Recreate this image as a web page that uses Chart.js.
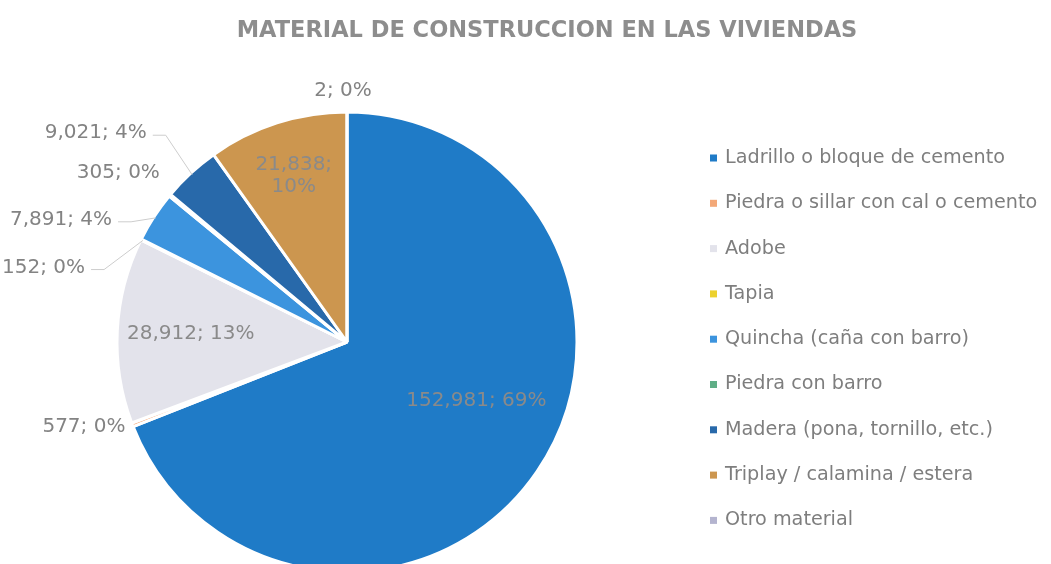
<!DOCTYPE html>
<html>
<head>
<meta charset="utf-8">
<title>Material de construcción en las viviendas</title>
<script src="https://cdn.jsdelivr.net/npm/chart.js@4.4.1/dist/chart.umd.min.js"></script>
<style>
  html, body { margin: 0; padding: 0; background: #fff; overflow: hidden; }
  #wrap { width: 1051px; height: 564px; }
</style>
</head>
<body>
<div id="wrap"><canvas id="chart-pie" width="1051" height="564"></canvas></div>
<script>
/* Datos */
const titulo = 'MATERIAL DE CONSTRUCCION EN LAS VIVIENDAS';

const materiales = [
  'Ladrillo o bloque de cemento',
  'Piedra o sillar con cal o cemento',
  'Adobe',
  'Tapia',
  'Quincha (caña con barro)',
  'Piedra con barro',
  'Madera (pona, tornillo, etc.)',
  'Triplay / calamina / estera',
  'Otro material',
];

const viviendas = [152981, 577, 28912, 152, 7891, 305, 9021, 21838, 2];

const colores = [
  '#1f7bc7', '#f3a878', '#e3e3eb', '#ecd12e', '#3c94de',
  '#5fae86', '#2869aa', '#cc964f', '#b4b4cf',
];

// ── dónde va cada etiqueta: dentro (fracción del radio) o desplazada del borde
const posEtiquetas = [
  { dentro: 0.68, dy: -29 },
  { dx: -7,  dy: 2 },
  { dentro: 0.68 },
  { dx: -56, dy: 28,  guia: true },
  { dx: -42, dy: 3,   guia: true },
  { dx: -10, dy: -22 },
  { dx: -44, dy: -40, guia: true },
  { dentro: 0.76, partir: true },
  { dx: -4,  dy: -21, centro: true },
];

const GRIS   = '#838383';
const FUENTE = "'DejaVu Sans', sans-serif";

const fmt = n => n.toLocaleString('en-US');

/* ── Plugin: título, leyenda y etiquetas ───────────── */
const extras = {
  id: 'extras',
  afterDraw(chart) {
    const ctx   = chart.ctx;
    const ds    = chart.data.datasets[0];
    const total = ds.data.reduce((a, b) => a + b, 0);
    const meta  = chart.getDatasetMeta(0);

    ctx.save();

    // título
    ctx.fillStyle = '#8d8d8d';
    ctx.font = `bold 22.5px ${FUENTE}`;
    ctx.textAlign = 'center';
    ctx.textBaseline = 'middle';
    ctx.fillText(titulo, 547, 31);

    // leyenda
    ctx.font = `19.2px ${FUENTE}`;
    ctx.textAlign = 'left';
    chart.data.labels.forEach((lab, i) => {
      const y = 158 + i * 45.3;
      ctx.fillStyle = ds.backgroundColor[i];
      ctx.fillRect(710, y - 3.5, 7, 7);
      ctx.fillStyle = '#7e7e7e';
      ctx.fillText(lab, 725, y);
    });

    // etiquetas de datos
    ctx.font = `20px ${FUENTE}`;
    meta.data.forEach((arc, i) => {
      const v   = ds.data[i];
      const txt = `${fmt(v)}; ${Math.round(v / total * 100)}%`;
      const p   = posEtiquetas[i];
      const mid = (arc.startAngle + arc.endAngle) / 2;
      const r   = arc.outerRadius;

      if (p.dentro) {
        const x = arc.x + Math.cos(mid) * r * p.dentro;
        const y = arc.y + Math.sin(mid) * r * p.dentro + (p.dy || 0);
        ctx.fillStyle = '#8a8a8a';
        ctx.textAlign = 'center';
        if (p.partir) {
          const [a, b] = txt.split(' ');
          ctx.fillText(a, x, y - 11);
          ctx.fillText(b, x, y + 11);
        } else {
          ctx.fillText(txt, x, y);
        }
        return;
      }

      const ax = arc.x + Math.cos(mid) * r;
      const ay = arc.y + Math.sin(mid) * r;
      const lx = ax + p.dx;
      const ly = ay + p.dy;

      if (p.guia) {
        ctx.strokeStyle = '#cdcdcd';
        ctx.lineWidth = 1;
        ctx.beginPath();
        ctx.moveTo(lx + 6, ly + 2);
        ctx.lineTo(lx + 19, ly + 2);
        ctx.lineTo(ax - Math.cos(mid) * 2, ay - Math.sin(mid) * 2);
        ctx.stroke();
      }

      ctx.fillStyle = GRIS;
      ctx.textAlign = p.centro ? 'center' : 'right';
      ctx.fillText(txt, lx, ly);
    });

    ctx.restore();
  },
};

/* ── Gráfico ───────────────────────────────────────── */
new Chart(document.getElementById('chart-pie').getContext('2d'), {
  type: 'pie',
  data: {
    labels: materiales,
    datasets: [{
      data: viviendas,
      backgroundColor: colores,
      borderColor: '#ffffff',
      borderWidth: 3,
    }],
  },
  options: {
    responsive: false,
    devicePixelRatio: 1,
    animation: false,
    events: [],
    radius: 230,
    layout: { padding: { left: 117, right: 474, top: 120, bottom: 0 } },
    plugins: {
      legend:  { display: false },
      title:   { display: false },
      tooltip: { enabled: false },
    },
  },
  plugins: [extras],
});
</script>
</body>
</html>
